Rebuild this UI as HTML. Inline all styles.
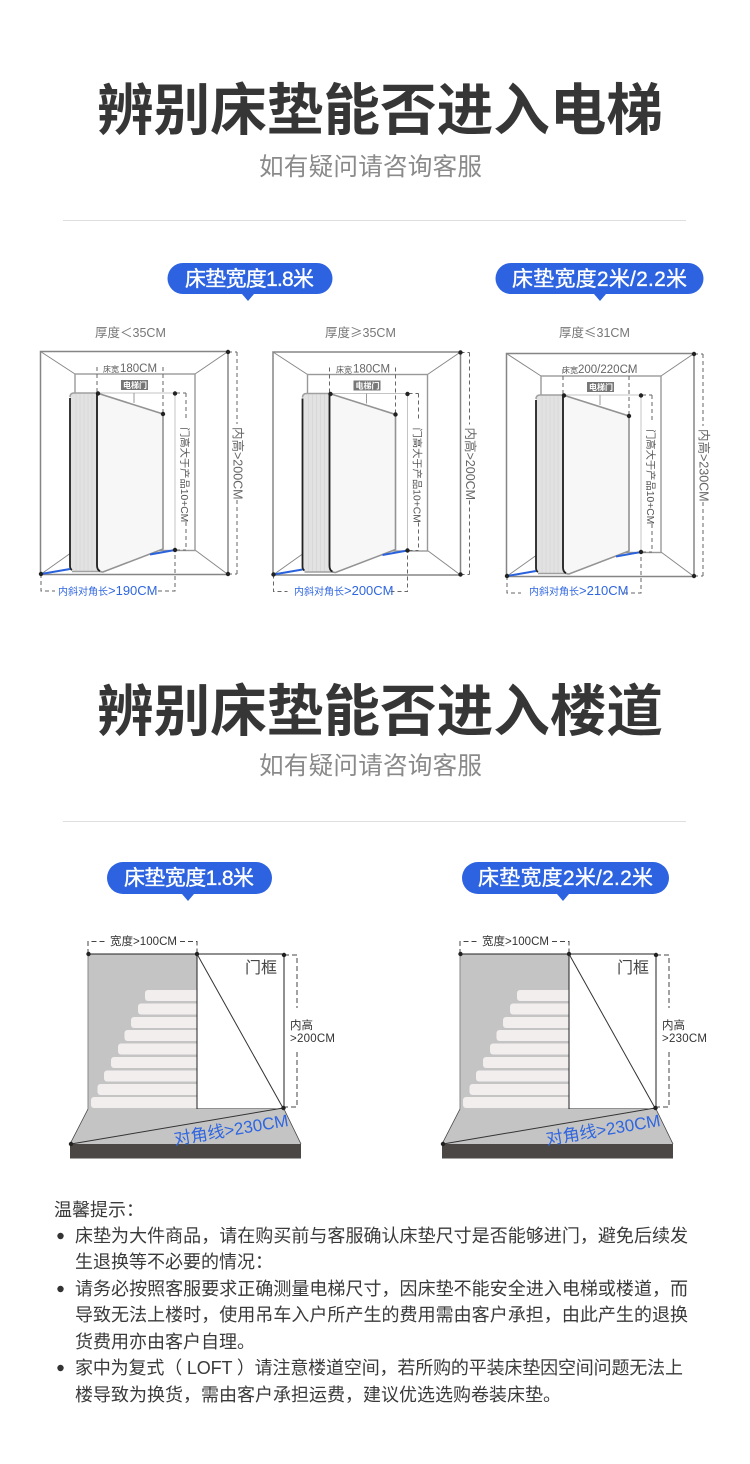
<!DOCTYPE html>
<html lang="zh">
<head>
<meta charset="utf-8">
<title>辨别床垫能否进入电梯</title>
<style>
html,body{margin:0;padding:0;background:#fff;width:750px;height:1464px;overflow:hidden}
svg{display:block}
text{font-family:"Liberation Sans","Noto Sans CJK SC",sans-serif}
.t{font-family:"Noto Sans CJK SC",sans-serif;font-weight:700;font-size:56px;fill:#363636}
.s{font-family:"Noto Sans CJK SC",sans-serif;font-size:24.6px;fill:#8a8a8a}
.p{font-size:21px;fill:#fff;stroke:#fff;stroke-width:.35px}
.b{font-size:18px;fill:#3a3a3a}
.g{font-size:12.5px;fill:#777}
.n{font-size:11.5px;fill:#333}
.v1{font-size:10.3px;fill:#555}
.v2{font-size:12.5px;fill:#666}
.w{font-size:11.5px;fill:#666}
.c{font-size:8px;fill:#555}
.e{font-size:8px;fill:#fff;font-weight:700}
.k1{font-size:10px;fill:#2f66e0}
.k2{font-size:13px;fill:#2f66e0}
.a{font-size:17px;fill:#2f66e0}
</style>
</head>
<body>
<svg width="750" height="1464" viewBox="0 0 750 1464" xmlns="http://www.w3.org/2000/svg">
<defs>
<g id="room">
  <rect x="40.5" y="351.5" width="187.5" height="223" fill="#fff" stroke="#858585" stroke-width="1.5"/>
  <path d="M40.5 351.5L75 374M228 351.5L195 374M40.5 574.5L75 550M228 574.5L195 550" stroke="#888" stroke-width="1" fill="none"/>
  <rect x="75" y="374" width="120" height="176.500" fill="#fff" stroke="#999" stroke-width="1.4"/>
  <path d="M97 393H175V550" fill="none" stroke="#c4c4c4" stroke-width="1"/>
  <path d="M134 393V403" stroke="#999" stroke-width="1"/>
  <rect x="121" y="380" width="27" height="10" fill="#777"/>
  <path d="M75 393Q70 393 70 398V565Q70 571 75 571.500H103L97 565V393Z" fill="#e2e2e2"/>
  <path d="M76 394V571M80 394V571M84 394V571M88 394V571M92 394V571" stroke="#d2d2d2" stroke-width="0.6"/>
  <path d="M97 393H74Q70 393 70 397M72 571.500H103" fill="none" stroke="#a0a0a0" stroke-width="1.500"/>
  <path d="M70 398V566Q70 569 72 570" fill="none" stroke="#222" stroke-width="1.800"/>
  <path d="M97 393L163 414V549L103 572Q97 572 97 565Z" fill="#f7f7f7" stroke="#939393" stroke-width="1.600"/>
  <path d="M97 393V565Q97 570 100 571" fill="none" stroke="#222" stroke-width="1.800"/>
  <path d="M41 574L70 569M150 554.500L175 550" stroke="#2a62dc" stroke-width="2" fill="none"/>
  <path d="M97 367V393M163 367V414M186 393V421M186 522V550M176 393H186M176 550H186M237 352V424M237 500V574M228 352H237M228 574H237M41 574V591H55M158 591H175V550" fill="none" stroke="#666" stroke-width="1" stroke-dasharray="4 3"/>
  <g fill="#222">
    <circle cx="228" cy="352" r="2.200"/><circle cx="228" cy="574" r="2.200"/><circle cx="41" cy="574" r="2.200"/>
    <circle cx="175" cy="393.500" r="2.200"/><circle cx="175" cy="550" r="2.200"/><circle cx="98" cy="393.500" r="2.200"/><circle cx="163" cy="414" r="2.200"/>
  </g>
</g>
<g id="stair">
  <rect x="88" y="954" width="109" height="155" fill="#c4c4c4"/>
  <g fill="#f2eeee">
    <rect x="145" y="990" width="56" height="11" rx="3"/>
    <rect x="138" y="1003.500" width="63" height="11" rx="3"/>
    <rect x="131" y="1017" width="70" height="11" rx="3"/>
    <rect x="124.500" y="1030" width="76" height="11" rx="3"/>
    <rect x="118" y="1043.500" width="83" height="11" rx="3"/>
    <rect x="111" y="1057" width="90" height="11" rx="3"/>
    <rect x="104" y="1070.500" width="97" height="11" rx="3"/>
    <rect x="97.500" y="1084" width="103" height="11" rx="3"/>
    <rect x="91" y="1097" width="110" height="11" rx="3"/>
  </g>
  <rect x="197" y="954" width="87" height="155" fill="#fff"/>
  <path d="M88 954V1109" stroke="#888" stroke-width="1"/>
  <path d="M88 954H284V1109H197V954" fill="none" stroke="#222" stroke-width="1"/>
  <path d="M197 954L283 1108" stroke="#333" stroke-width="1"/>
  <path d="M88 1109H284L301 1144H70Z" fill="#c4c4c4"/>
  <path d="M88 1109L70 1144M284 1109L301 1144" stroke="#444" stroke-width="0.800"/>
  <rect x="70" y="1144" width="231" height="14.500" fill="#4b4745"/>
  <path d="M71 1144L283 1108" stroke="#333" stroke-width="1"/>
  <path d="M88 954V941.500H106M180 941.500H197V954M284 955H297V1008M297 1052V1107H284" fill="none" stroke="#444" stroke-width="1" stroke-dasharray="5 3"/>
  <g fill="#222">
    <circle cx="88.500" cy="954" r="2.200"/><circle cx="197" cy="954" r="2.200"/><circle cx="284" cy="955" r="2.200"/><circle cx="283.500" cy="1108" r="2.200"/><circle cx="71" cy="1144" r="2.200"/>
  </g>
</g>
</defs>

<rect width="750" height="1464" fill="#fff"/>

<text class="t" x="97" y="130" textLength="566" lengthAdjust="spacingAndGlyphs">辨别床垫能否进入电梯</text>
<text class="s" x="259" y="175" textLength="223">如有疑问请咨询客服</text>
<rect x="63" y="220" width="623" height="1" fill="#dedede"/>

<path d="M183 263H317A15.500 15.500 0 0 1 317 294H254L248 301L242 294H183A15.500 15.500 0 0 1 183 263Z" fill="#2d63e0"/>
<text class="p" x="185" y="286" textLength="129">床垫宽度1.8米</text>
<path d="M511 263H688A15.500 15.500 0 0 1 688 294H606L600 301L594 294H511A15.500 15.500 0 0 1 511 263Z" fill="#2d63e0"/>
<text class="p" x="512" y="286" textLength="175">床垫宽度2米/2.2米</text>

<use href="#room"/>
<use href="#room" x="232.500" y="0.500"/>
<use href="#room" x="466" y="2"/>

<g>
<text class="g" x="95" y="337">厚度<tspan font-family="Noto Sans CJK SC">＜</tspan>35CM</text>
<text class="c" x="103" y="372">床宽</text><text class="w" x="120" y="372">180CM</text>
<text class="e" x="123" y="388">电梯门</text>
<text class="v1" transform="translate(181,427) rotate(90)">门高大于产品10+CM</text>
<text class="v2" transform="translate(233.500,427) rotate(90)">内高&gt;200CM</text>
<text class="k1" x="58" y="595">内斜对角长</text><text class="k2" x="108" y="595">&gt;190CM</text>
</g>
<g>
<text class="g" x="325" y="337">厚度<tspan font-family="Noto Sans CJK SC">≥</tspan>35CM</text>
<text class="c" x="336" y="372.500">床宽</text><text class="w" x="353" y="372.500">180CM</text>
<text class="e" x="355.500" y="388.500">电梯门</text>
<text class="v1" transform="translate(413.500,427.500) rotate(90)">门高大于产品10+CM</text>
<text class="v2" transform="translate(466,427.500) rotate(90)">内高&gt;200CM</text>
<text class="k1" x="294" y="595">内斜对角长</text><text class="k2" x="344" y="595">&gt;200CM</text>
</g>
<g>
<text class="g" x="559" y="337">厚度<tspan font-family="Noto Sans CJK SC">≤</tspan>31CM</text>
<text class="c" x="562" y="373">床宽</text><text class="w" x="578" y="373">200/220CM</text>
<text class="e" x="589" y="390">电梯门</text>
<text class="v1" transform="translate(647,429) rotate(90)">门高大于产品10+CM</text>
<text class="v2" transform="translate(699.500,429) rotate(90)">内高&gt;230CM</text>
<text class="k1" x="529" y="595">内斜对角长</text><text class="k2" x="579" y="595">&gt;210CM</text>
</g>

<text class="t" x="97" y="731" textLength="566" lengthAdjust="spacingAndGlyphs">辨别床垫能否进入楼道</text>
<text class="s" x="259" y="774" textLength="223">如有疑问请咨询客服</text>
<rect x="63" y="821" width="623" height="1" fill="#dedede"/>

<path d="M123 862H256A16 16 0 0 1 256 894H194L188 901L182 894H123A16 16 0 0 1 123 862Z" fill="#2d63e0"/>
<text class="p" x="124" y="885" textLength="130">床垫宽度1.8米</text>
<path d="M478 862H653A16 16 0 0 1 653 894H569L563 901L557 894H478A16 16 0 0 1 478 862Z" fill="#2d63e0"/>
<text class="p" x="478" y="885" textLength="175">床垫宽度2米/2.2米</text>

<use href="#stair"/>
<use href="#stair" x="372"/>

<g>
<text x="110" y="945" font-size="11.500" fill="#333" textLength="67">宽度&gt;100CM</text>
<text x="245" y="973" font-size="16" fill="#444" textLength="32">门框</text>
<text class="n" x="290" y="1029">内高</text>
<text class="n" x="290" y="1042" textLength="45">&gt;200CM</text>
<text class="a" transform="translate(175,1145) rotate(-9.500)">对角线&gt;230CM</text>
</g>
<g>
<text x="482" y="945" font-size="11.500" fill="#333" textLength="67">宽度&gt;100CM</text>
<text x="617" y="973" font-size="16" fill="#444" textLength="32">门框</text>
<text class="n" x="662" y="1029">内高</text>
<text class="n" x="662" y="1042" textLength="45">&gt;230CM</text>
<text class="a" transform="translate(547,1145) rotate(-9.500)">对角线&gt;230CM</text>
</g>

<text class="b" x="54" y="1216">温馨提示：</text>
<circle cx="60.500" cy="1236" r="3.200" fill="#333"/>
<text class="b" x="75" y="1242" textLength="613">床垫为大件商品，请在购买前与客服确认床垫尺寸是否能够进门，避免后续发</text>
<text class="b" x="75" y="1268">生退换等不必要的情况：</text>
<circle cx="60.500" cy="1289" r="3.200" fill="#333"/>
<text class="b" x="75" y="1295" textLength="613">请务必按照客服要求正确测量电梯尺寸，因床垫不能安全进入电梯或楼道，而</text>
<text class="b" x="75" y="1321" textLength="613">导致无法上楼时，使用吊车入户所产生的费用需由客户承担，由此产生的退换</text>
<text class="b" x="75" y="1348">货费用亦由客户自理。</text>
<circle cx="60.500" cy="1368" r="3.200" fill="#333"/>
<text class="b" x="75" y="1374" textLength="608">家中为复式（ LOFT ）请注意楼道空间，若所购的平装床垫因空间问题无法上</text>
<text class="b" x="75" y="1401">楼导致为换货，需由客户承担运费，建议优选选购卷装床垫。</text>
</svg>
</body>
</html>
